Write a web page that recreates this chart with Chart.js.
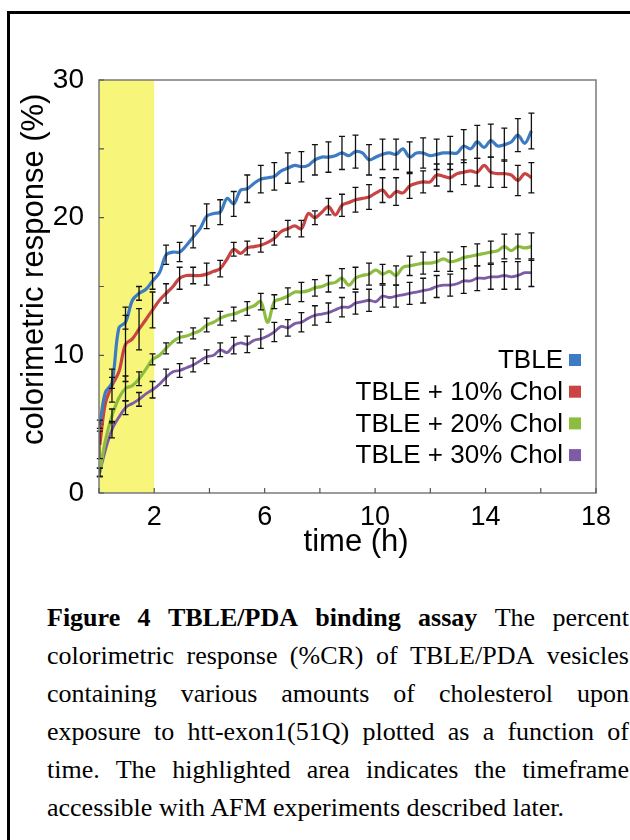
<!DOCTYPE html>
<html>
<head>
<meta charset="utf-8">
<script src="https://cdn.jsdelivr.net/npm/chart.js@4.4.1/dist/chart.umd.min.js"></script>
<style>
  html, body { margin: 0; padding: 0; background: #fff; width: 630px; height: 840px; overflow: hidden; }
  #frame { position: absolute; left: 7px; top: 11px; width: 700px; height: 900px; border: 3px solid #000; box-sizing: border-box; }
  #wrap { position: absolute; left: 0; top: 0; width: 630px; height: 563px; }
  #caption { position: absolute; left: 47px; top: 599px; width: 582px; font-family: 'Liberation Serif', 'Times New Roman', serif; font-size: 26px; line-height: 38px; color: #000; }
  .line { display: flex; justify-content: space-between; white-space: nowrap; }
  .plain { white-space: nowrap; }
</style>
</head>
<body>
<div id="frame"></div>
<div id="wrap"><canvas id="myChart" width="630" height="563"></canvas></div>
<div id="caption"></div>
<script>
// time in hours (error bars sit on every second point)
const times = [0.03, 0.23, 0.47, 0.72, 0.96, 1.21, 1.45, 1.70, 1.94, 2.19, 2.43, 2.68, 2.92, 3.17, 3.41, 3.66,
  3.90, 4.15, 4.39, 4.64, 4.88, 5.13, 5.37, 5.62, 5.86, 6.11, 6.35, 6.60, 6.84, 7.09, 7.33, 7.58,
  7.82, 8.07, 8.31, 8.56, 8.80, 9.05, 9.29, 9.54, 9.78, 10.03, 10.27, 10.52, 10.76, 11.01, 11.25, 11.50,
  11.74, 11.99, 12.23, 12.48, 12.72, 12.97, 13.21, 13.46, 13.70, 13.95, 14.19, 14.44, 14.68, 14.93, 15.17, 15.42, 15.66];

const tble = [5.0, 7.3, 8.0, 12.0, 12.4, 14.0, 14.5, 14.8, 15.4, 16.0, 17.3, 17.5, 17.5, 18.0, 18.6, 19.2,
  20.1, 20.3, 20.4, 21.4, 21.0, 22.0, 22.1, 22.5, 22.8, 22.9, 23.0, 23.4, 23.6, 23.8, 23.7, 23.8,
  24.2, 24.4, 24.4, 24.5, 24.7, 24.5, 24.8, 24.7, 24.2, 24.4, 24.6, 24.7, 24.6, 25.0, 24.4, 24.7,
  24.7, 24.5, 24.6, 24.7, 24.7, 24.7, 25.2, 25.0, 25.5, 25.1, 25.6, 25.2, 25.3, 25.5, 26.0, 25.4, 26.3];
const chol10 = [3.5, 6.5, 7.8, 8.8, 10.8, 11.2, 11.9, 12.6, 13.3, 14.0, 14.5, 15.0, 15.6, 15.8, 15.8, 15.8,
  15.9, 16.1, 16.3, 17.0, 17.7, 17.4, 17.8, 17.9, 18.0, 18.2, 18.5, 19.0, 19.2, 19.4, 19.2, 20.3,
  20.0, 20.4, 20.8, 20.2, 20.9, 21.1, 21.3, 21.4, 21.5, 21.8, 22.0, 21.5, 21.9, 21.8, 22.3, 22.5,
  22.6, 22.6, 23.1, 23.0, 22.9, 23.2, 23.3, 23.4, 23.3, 23.8, 23.3, 23.2, 23.2, 23.1, 22.7, 23.2, 22.9];
const chol20 = [1.5, 3.8, 5.6, 6.9, 7.6, 7.8, 8.3, 9.0, 9.7, 10.0, 10.5, 11.0, 11.3, 11.4, 11.6, 11.8,
  12.2, 12.4, 12.7, 12.9, 13.0, 13.2, 13.4, 13.6, 13.9, 12.4, 13.9, 14.1, 14.3, 14.6, 14.6, 14.7,
  14.9, 15.0, 15.2, 15.3, 15.6, 15.1, 15.6, 15.8, 15.9, 16.2, 15.9, 16.1, 15.8, 16.4, 16.5, 16.6,
  16.7, 16.7, 16.8, 17.0, 16.8, 16.9, 17.1, 17.2, 17.3, 17.4, 17.5, 17.6, 17.9, 17.6, 17.9, 17.8, 17.9];
const chol30 = [1.5, 3.1, 4.6, 5.5, 6.2, 6.5, 6.8, 7.2, 7.5, 7.9, 8.4, 8.8, 8.9, 9.1, 9.3, 9.6,
  9.9, 10.0, 10.4, 10.2, 10.7, 10.9, 10.8, 11.1, 11.2, 11.4, 11.7, 12.1, 12.0, 12.3, 12.4, 12.7,
  12.9, 13.0, 13.1, 13.3, 13.5, 13.5, 13.8, 13.9, 14.0, 13.9, 14.3, 14.2, 14.3, 14.4, 14.5, 14.6,
  14.7, 14.8, 15.0, 15.1, 15.1, 15.2, 15.4, 15.4, 15.6, 15.6, 15.7, 15.7, 15.8, 15.7, 15.8, 16.0, 16.0];

// half-length of error bars, one per even index of times
const errTble = [0.3, 0.4, 0.5, 0.5, 0.6, 0.7, 0.7, 0.8, 0.9, 0.9, 0.9, 1.0, 1.0, 1.0, 1.1, 1.1, 1.1,
  1.1, 1.2, 1.2, 1.1, 1.1, 1.1, 1.1, 1.1, 1.1, 1.2, 1.2, 1.2, 1.2, 1.2, 1.2, 1.3];
const err10 = [1.0, 1.2, 2.7, 1.5, 1.3, 0.7, 0.8, 0.6, 0.8, 0.6, 0.5, 0.5, 0.5, 0.5, 0.6, 0.6, 0.5,
  0.6, 0.8, 0.9, 0.9, 0.9, 1.0, 0.9, 0.8, 0.8, 1.0, 0.9, 1.0, 1.1, 1.0, 1.1, 1.1];
const err20 = [0.3, 0.5, 0.9, 0.5, 0.4, 0.4, 0.4, 0.4, 0.5, 0.5, 0.5, 0.5, 0.6, 0.5, 0.6, 0.7, 0.6,
  0.6, 0.7, 0.8, 0.8, 0.7, 0.7, 0.7, 0.8, 0.7, 0.7, 0.8, 0.8, 0.8, 0.9, 0.9, 1.0];
const err30 = [0.3, 0.6, 0.5, 0.5, 0.6, 0.6, 0.5, 0.5, 0.5, 0.5, 0.6, 0.6, 0.7, 0.7, 0.6, 0.7, 0.7,
  0.7, 0.7, 0.8, 0.8, 0.8, 0.8, 0.8, 0.9, 0.8, 0.8, 0.9, 0.9, 0.9, 1.0, 1.0, 1.0];

const seriesNames = ['TBLE', 'TBLE + 10% Chol', 'TBLE + 20% Chol', 'TBLE + 30% Chol'];
const seriesColors = ['#3d7cc4', '#c94443', '#8dbd3f', '#7d5ba6'];
const xLabels = [2, 6, 10, 14, 18];
const yLabels = [0, 10, 20, 30];
const afmWindow = [0, 2];

const allValues = [tble, chol10, chol20, chol30];
const allErrors = [errTble, err10, err20, err30];

const sansFont = "'Liberation Sans', Arial, sans-serif";

const highlight = {
  id: 'highlight',
  beforeDatasetsDraw(chart) {
    const { ctx, chartArea, scales } = chart;
    const x0 = scales.x.getPixelForValue(afmWindow[0]);
    const x1 = scales.x.getPixelForValue(afmWindow[1]);
    ctx.save();
    ctx.fillStyle = '#f7f67b';
    ctx.fillRect(x0, chartArea.top, x1 - x0, chartArea.bottom - chartArea.top);
    ctx.restore();
  }
};

const errorBars = {
  id: 'errorBars',
  afterDatasetsDraw(chart) {
    const { ctx, scales } = chart;
    ctx.save();
    ctx.strokeStyle = '#111';
    ctx.lineWidth = 1.3;
    allErrors.forEach((errs, i) => {
      errs.forEach((e, k) => {
        const idx = k * 2;
        const x = scales.x.getPixelForValue(times[idx]);
        const yTop = scales.y.getPixelForValue(allValues[i][idx] + e);
        const yBot = scales.y.getPixelForValue(allValues[i][idx] - e);
        ctx.beginPath();
        ctx.moveTo(x, yTop); ctx.lineTo(x, yBot);
        ctx.moveTo(x - 3, yTop); ctx.lineTo(x + 3, yTop);
        ctx.moveTo(x - 3, yBot); ctx.lineTo(x + 3, yBot);
        ctx.stroke();
      });
    });
    ctx.restore();
  }
};

const frameAndTicks = {
  id: 'frameAndTicks',
  afterDraw(chart) {
    const { ctx, chartArea, scales } = chart;
    ctx.save();
    ctx.strokeStyle = '#7a7a7a';
    ctx.lineWidth = 1.5;
    ctx.strokeRect(chartArea.left, chartArea.top, chartArea.right - chartArea.left, chartArea.bottom - chartArea.top);
    ctx.strokeStyle = '#555';
    ctx.lineWidth = 1.2;
    ctx.beginPath();
    scales.x.ticks.forEach(t => {
      const x = scales.x.getPixelForValue(t.value);
      ctx.moveTo(x, chartArea.bottom); ctx.lineTo(x, chartArea.bottom - 5);
    });
    scales.y.ticks.forEach(t => {
      const y = scales.y.getPixelForValue(t.value);
      ctx.moveTo(chartArea.left, y); ctx.lineTo(chartArea.left + 5, y);
    });
    ctx.stroke();

    // legend: text right aligned, colour box to the right
    ctx.font = '26px ' + sansFont;
    ctx.textAlign = 'right';
    ctx.textBaseline = 'middle';
    const right = chartArea.right - 33;
    seriesNames.forEach((name, i) => {
      const y = chartArea.top + 280 + i * 31.7;
      ctx.fillStyle = '#000';
      ctx.fillText(name, right, y + 1);
      ctx.fillStyle = seriesColors[i];
      ctx.fillRect(right + 6, y - 6, 12, 12);
    });
    ctx.restore();
  }
};

const datasets = allValues.map((vals, i) => ({
  label: seriesNames[i],
  data: times.map((t, j) => ({ x: t, y: vals[j] })),
  borderColor: seriesColors[i],
  borderWidth: i === 3 ? 2.8 : 3.2,
  pointRadius: 0,
  tension: 0.35,
  fill: false
}));

new Chart(document.getElementById('myChart').getContext('2d'), {
  type: 'line',
  data: { datasets },
  options: {
    responsive: false,
    animation: false,
    layout: { padding: { top: 80, right: 34, left: 0, bottom: 0 } },
    plugins: { legend: { display: false }, tooltip: { enabled: false } },
    scales: {
      x: {
        type: 'linear', min: 0, max: 18,
        grid: { display: false, drawTicks: false },
        border: { display: false },
        ticks: {
          stepSize: 2, autoSkip: false, maxRotation: 0, padding: 8, color: '#000',
          font: { family: sansFont, size: 27 },
          callback: v => xLabels.includes(v) ? String(v) : ''
        },
        // leading spaces nudge the title a little right, as in the figure
        title: { display: true, text: '  time (h)', color: '#000', font: { family: sansFont, size: 31 }, padding: { top: 0, bottom: 2 } },
        afterFit: s => { s.height = 70; }
      },
      y: {
        min: 0, max: 30,
        grid: { display: false, drawTicks: false },
        border: { display: false },
        ticks: {
          stepSize: 5, autoSkip: false, padding: 15, color: '#000',
          font: { family: sansFont, size: 28 },
          callback: v => yLabels.includes(v) ? String(v) : ''
        },
        // leading spaces shift the rotated title upward
        title: { display: true, text: '    colorimetric response (%)', color: '#000', font: { family: sansFont, size: 31 }, padding: { top: 16, bottom: 0 } },
        afterFit: s => { s.width = 99; }
      }
    }
  },
  plugins: [highlight, errorBars, frameAndTicks]
});

// caption, justified line by line
const captionLines = [
  ['Figure 4 TBLE/PDA binding assay', 'The percent'],
  ['', 'colorimetric response (%CR) of TBLE/PDA vesicles'],
  ['', 'containing various amounts of cholesterol upon'],
  ['', 'exposure to htt-exon1(51Q) plotted as a function of'],
  ['', 'time. The highlighted area indicates the timeframe'],
  ['', 'accessible with AFM experiments described later.']
];
const cap = document.getElementById('caption');
captionLines.forEach((ln, i) => {
  const div = document.createElement('div');
  if (i === captionLines.length - 1) {
    div.className = 'plain';
    div.textContent = ln[1];
  } else {
    div.className = 'line';
    const bold = ln[0] ? ln[0].split(' ') : [];
    bold.forEach(w => { const b = document.createElement('b'); b.textContent = w; div.appendChild(b); });
    ln[1].split(' ').forEach(w => { const s = document.createElement('span'); s.textContent = w; div.appendChild(s); });
  }
  cap.appendChild(div);
});
</script>
</body>
</html>
